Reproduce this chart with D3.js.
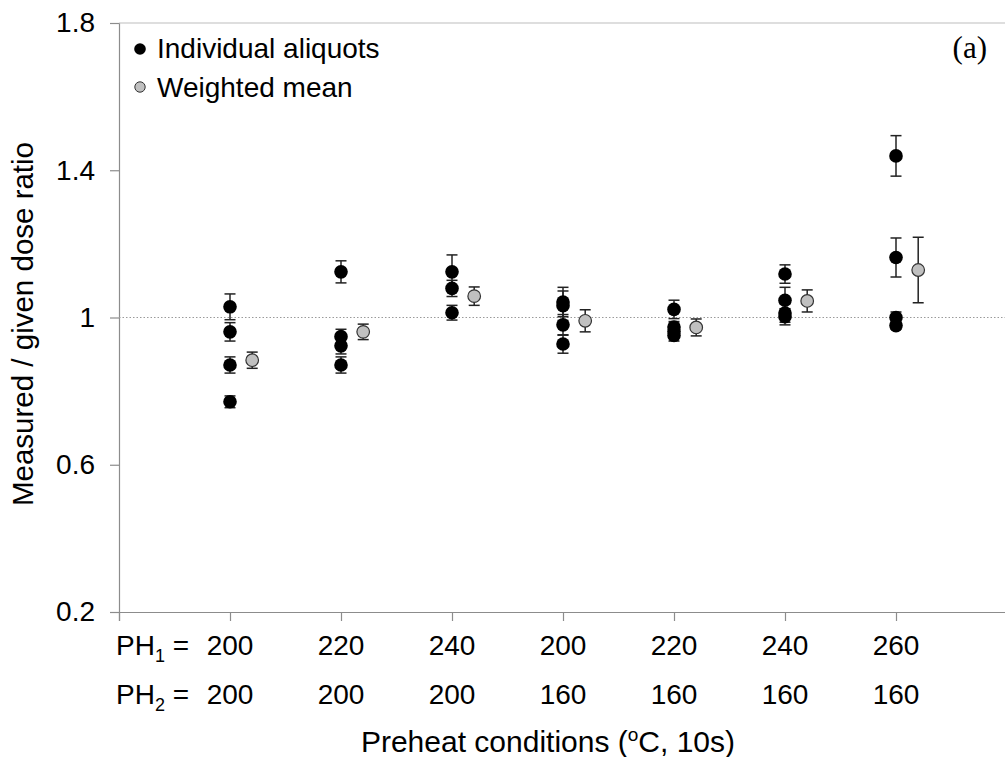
<!DOCTYPE html>
<html>
<head>
<meta charset="utf-8">
<script src="https://cdn.jsdelivr.net/npm/d3@7"></script>
<style>
  html, body { margin: 0; padding: 0; background: #fff; }
  svg { display: block; font-family: Arial, "Liberation Sans", sans-serif; }
</style>
</head>
<body>
<svg id="chart" width="1005" height="757"></svg>
<script>
// ---- data ----
const ph1Labels = ["200", "220", "240", "200", "220", "240", "260"];
const ph2Labels = ["200", "200", "200", "160", "160", "160", "160"];
const yTicks = [0.2, 0.6, 1.0, 1.4, 1.8];

// individual aliquots: group index (1..7), value, error
const aliquotGroup = [1, 1, 1, 1, 2, 2, 2, 2, 3, 3, 3, 4, 4, 4, 4, 5, 5, 5, 5, 6, 6, 6, 6, 7, 7, 7, 7];
const aliquotValue = [1.029, 0.961, 0.871, 0.771, 1.124, 0.948, 0.923, 0.871, 1.124, 1.079, 1.013, 1.042, 1.032, 0.980, 0.928, 1.022, 0.974, 0.962, 0.951, 1.118, 1.047, 1.012, 1.002, 1.439, 1.163, 1.000, 0.978];
const aliquotError = [0.035, 0.025, 0.022, 0.016, 0.030, 0.020, 0.022, 0.022, 0.046, 0.022, 0.020, 0.040, 0.040, 0.028, 0.025, 0.025, 0.015, 0.015, 0.015, 0.025, 0.035, 0.025, 0.022, 0.055, 0.053, 0.015, 0.010];

// weighted means per group
const meanGroup = [1, 2, 3, 4, 5, 6, 7];
const meanValue = [0.884, 0.961, 1.058, 0.991, 0.973, 1.045, 1.129];
const meanError = [0.022, 0.021, 0.025, 0.030, 0.023, 0.030, 0.089];

// ---- chart ----
const svg = d3.select("#chart");
const x = d3.scaleLinear().domain([0, 8]).range([119, 1007]);
const y = d3.scaleLinear().domain([0.2, 1.8]).range([612, 23]);
const axisColor = "#8c8c8c";
const meanOffset = 0.2;

// y axis
const yAxis = svg.append("g").attr("transform", `translate(${x(0)},0)`)
  .call(d3.axisLeft(y).tickValues(yTicks).tickSize(9).tickPadding(15)
    .tickFormat(d => d === 1 ? "1" : d3.format(".1f")(d)));
yAxis.select(".domain").attr("stroke", axisColor).attr("stroke-width", 1.2);
yAxis.selectAll(".tick line").attr("stroke", axisColor).attr("stroke-width", 1.2);
yAxis.selectAll(".tick text").attr("font-size", 28).attr("fill", "#000")
  .attr("font-family", "Arial, 'Liberation Sans', sans-serif");

// x axis (ticks only)
const xAxis = svg.append("g").attr("transform", `translate(0,${y(0.2)})`)
  .call(d3.axisBottom(x).tickValues(d3.range(0, 9)).tickSize(9).tickFormat(""));
xAxis.select(".domain").attr("stroke", axisColor).attr("stroke-width", 1.2);
xAxis.selectAll(".tick line").attr("stroke", axisColor).attr("stroke-width", 1.2);

// top frame line
svg.append("line").attr("x1", x(0)).attr("x2", 1005).attr("y1", y(1.8)).attr("y2", y(1.8))
  .attr("stroke", "#bdbdbd").attr("stroke-width", 1.2);

// reference line at 1
svg.append("line").attr("x1", x(0)).attr("x2", 1005).attr("y1", y(1)).attr("y2", y(1))
  .attr("stroke", "#9a9a9a").attr("stroke-width", 1).attr("stroke-dasharray", "1.5,2");

// error bars helper
function errorBars(g, xs, vs, es) {
  const capW = 5.5;
  xs.forEach((xv, i) => {
    const cx = x(xv), top = y(vs[i] + es[i]), bot = y(vs[i] - es[i]);
    g.append("line").attr("x1", cx).attr("x2", cx).attr("y1", top).attr("y2", bot);
    g.append("line").attr("x1", cx - capW).attr("x2", cx + capW).attr("y1", top).attr("y2", top);
    g.append("line").attr("x1", cx - capW).attr("x2", cx + capW).attr("y1", bot).attr("y2", bot);
  });
}

const eb = svg.append("g").attr("stroke", "#222").attr("stroke-width", 1.5);
errorBars(eb, aliquotGroup, aliquotValue, aliquotError);
errorBars(eb, meanGroup.map(g => g + meanOffset), meanValue, meanError);

// aliquot points
svg.append("g").selectAll("circle").data(aliquotValue).join("circle")
  .attr("cx", (d, i) => x(aliquotGroup[i]))
  .attr("cy", d => y(d))
  .attr("r", 6.8)
  .attr("fill", "#000");

// weighted mean points
svg.append("g").selectAll("circle").data(meanValue).join("circle")
  .attr("cx", (d, i) => x(meanGroup[i] + meanOffset))
  .attr("cy", d => y(d))
  .attr("r", 6.3)
  .attr("fill", "#c0c0c0")
  .attr("stroke", "#333").attr("stroke-width", 1.2);

// legend
const leg = svg.append("g");
leg.append("circle").attr("cx", 140).attr("cy", 49).attr("r", 5.8).attr("fill", "#000");
leg.append("circle").attr("cx", 140).attr("cy", 87).attr("r", 5.2).attr("fill", "#c0c0c0")
  .attr("stroke", "#333").attr("stroke-width", 1);
leg.append("text").attr("x", 157).attr("y", 58).attr("font-size", 28).text("Individual aliquots");
leg.append("text").attr("x", 157).attr("y", 97).attr("font-size", 28).text("Weighted mean");

// panel label
svg.append("text").attr("x", 987).attr("y", 58).attr("text-anchor", "end")
  .attr("font-family", "'Liberation Serif', 'Times New Roman', serif").attr("font-size", 31).text("(a)");

// x category labels
function rowLabel(yPos, sub, labels) {
  const t = svg.append("text").attr("x", 116).attr("y", yPos).attr("font-size", 28);
  t.append("tspan").text("PH");
  t.append("tspan").attr("font-size", 18).attr("dy", 7).text(sub);
  t.append("tspan").attr("dy", -7).text(" =");
  svg.append("g").selectAll("text").data(labels).join("text")
    .attr("x", (d, i) => x(i + 1)).attr("y", yPos)
    .attr("text-anchor", "middle").attr("font-size", 28).text(d => d);
}
rowLabel(655, "1", ph1Labels);
rowLabel(704, "2", ph2Labels);

// x title
const xt = svg.append("text").attr("x", 548).attr("y", 752).attr("text-anchor", "middle").attr("font-size", 30);
xt.append("tspan").text("Preheat conditions (");
xt.append("tspan").attr("font-size", 19).attr("dy", -11).text("o");
xt.append("tspan").attr("dy", 11).text("C, 10s)");

// y title
svg.append("text").attr("transform", `translate(33,324) rotate(-90)`)
  .attr("text-anchor", "middle").attr("font-size", 29.5).text("Measured / given dose ratio");
</script>
</body>
</html>
